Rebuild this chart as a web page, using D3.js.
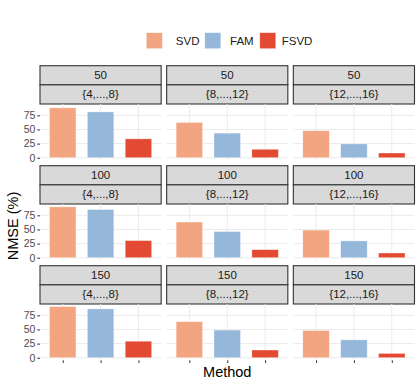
<!DOCTYPE html>
<html>
<head>
<meta charset="utf-8">
<script src="https://cdn.jsdelivr.net/npm/d3@7"></script>
<style>
  body { margin: 0; background: #fff; }
  svg { display: block; font-family: "Liberation Sans", Arial, sans-serif; }
</style>
</head>
<body>
<svg id="chart" width="420" height="385"></svg>
<script>
// facet rows (K) and columns (range)
const kValues = ["50", "100", "150"];
const ranges = ["{4,...,8}", "{8,...,12}", "{12,...,16}"];
const methods = ["SVD", "FAM", "FSVD"];
// NMSE (%) per row (K) and column (range)
const svdVals = [[88.2, 62.5, 47.7], [90.0, 63.2, 48.9], [90.5, 63.7, 48.2]];
const famVals = [[81.0, 43.5, 24.5], [85.2, 46.4, 29.8], [86.4, 48.9, 31.6]];
const fsvdVals = [[33.4, 15.0, 8.4], [30.4, 14.3, 8.4], [29.3, 13.7, 7.7]];
const yTicks = [0, 25, 50, 75];

const colors = {SVD: "#f2a580", FAM: "#95b7da", FSVD: "#e34a33"};

const svg = d3.select("#chart");
const left = 40, right = 414.5, gap = 5.5;
const panelW = (right - left - 2 * gap) / 3;
const stripH = 19.15, panelH = 56.3, rowTop = 65.7, rowStep = 100;

const series = {SVD: svdVals, FAM: famVals, FSVD: fsvdVals};
const ymax = d3.max(Object.values(series).flat(2));
const y = d3.scaleLinear().domain([-0.05 * ymax, 1.05 * ymax]).range([panelH, 0]);
const x = d3.scalePoint().domain(methods).range([0, panelW]).padding(0.6);
const barW = x.step() * 0.7;

kValues.forEach((k, r) => {
    ranges.forEach((rg, c) => {
        const px = left + c * (panelW + gap);
        const top = rowTop + r * rowStep;
        const g = svg.append("g").attr("transform", `translate(${px},${top})`);

        // strips
        [k, rg].forEach((lab, i) => {
            g.append("rect")
                .attr("x", 0).attr("y", i * stripH)
                .attr("width", panelW).attr("height", stripH)
                .attr("fill", "#d9d9d9").attr("stroke", "#333").attr("stroke-width", 1.1);
            g.append("text")
                .attr("x", panelW / 2).attr("y", i * stripH + stripH / 2)
                .attr("dy", "0.35em").attr("text-anchor", "middle")
                .attr("font-size", "11.5px").attr("fill", "#1a1a1a")
                .text(lab);
        });

        const p = g.append("g").attr("transform", `translate(0,${2 * stripH})`);

        // grid
        p.selectAll(".hgrid").data(yTicks).join("line")
            .attr("x1", 0).attr("x2", panelW)
            .attr("y1", (d) => y(d)).attr("y2", (d) => y(d))
            .attr("stroke", "#ebebeb").attr("stroke-width", 1);
        p.selectAll(".vgrid").data(methods).join("line")
            .attr("x1", (d) => x(d)).attr("x2", (d) => x(d))
            .attr("y1", 0).attr("y2", panelH)
            .attr("stroke", "#ebebeb").attr("stroke-width", 1);

        // bars
        p.selectAll(".bar").data(methods).join("rect")
            .attr("x", (d) => x(d) - barW / 2)
            .attr("width", barW)
            .attr("y", (d) => y(series[d][r][c]))
            .attr("height", (d) => y(0) - y(series[d][r][c]))
            .attr("fill", (d) => colors[d])
            .attr("stroke", "#fff").attr("stroke-opacity", 0.6).attr("stroke-width", 0.6);

        // y axis on first column
        if (c === 0) {
            const ax = p.append("g")
                .call(d3.axisLeft(y).tickValues(yTicks).tickSize(2.7).tickPadding(2));
            ax.select(".domain").remove();
            ax.selectAll("line").attr("stroke", "#333");
            ax.selectAll("text").attr("fill", "#4d4d4d").style("font-size", "10.5px")
                .style("font-family", "Liberation Sans, Arial, sans-serif");
        }
        // x axis ticks on last row
        if (r === kValues.length - 1) {
            const ax = p.append("g").attr("transform", `translate(0,${panelH})`)
                .call(d3.axisBottom(x).tickSize(2.7).tickFormat(""));
            ax.select(".domain").remove();
            ax.selectAll("line").attr("stroke", "#333");
        }
    });
});

// axis titles
svg.append("text")
    .attr("transform", "translate(18,226) rotate(-90)")
    .attr("text-anchor", "middle")
    .attr("font-size", "14.5px")
    .text("NMSE (%)");

svg.append("text")
    .attr("x", (left + right) / 2).attr("y", 376.5)
    .attr("text-anchor", "middle")
    .attr("font-size", "14.5px")
    .text("Method");

// legend
const legendX = [146.3, 204.8, 259.8];
const legend = svg.append("g").selectAll("g").data(methods).join("g")
    .attr("transform", (d, i) => `translate(${legendX[i]},32.7)`);
legend.append("rect")
    .attr("width", 16).attr("height", 16)
    .attr("fill", (d) => colors[d])
    .attr("stroke", "#fff").attr("stroke-opacity", 0.6).attr("stroke-width", 0.6);
legend.append("text")
    .attr("x", (d, i) => (i === 0 ? 29.5 : i === 1 ? 25.2 : 21.9))
    .attr("y", 8).attr("dy", "0.35em")
    .attr("font-size", "11.5px").attr("fill", "#1a1a1a")
    .text((d) => d);
</script>
</body>
</html>
